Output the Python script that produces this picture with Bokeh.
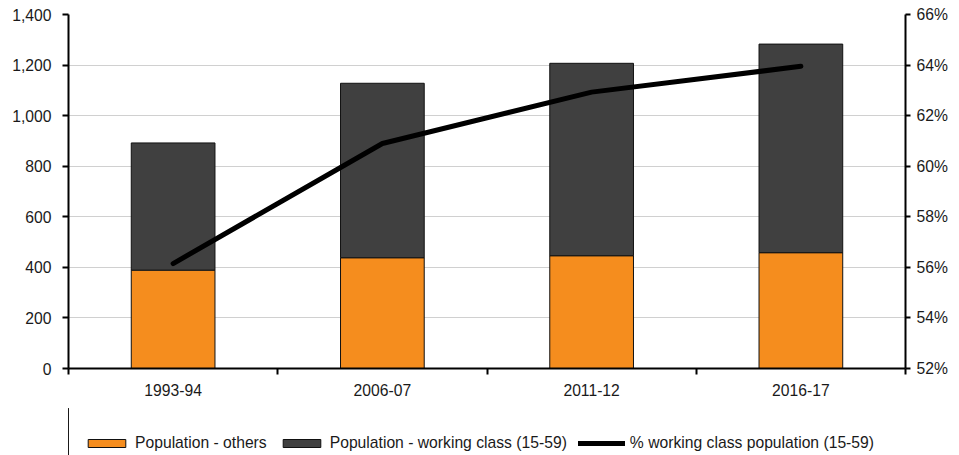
from bokeh.plotting import figure
from bokeh.layouts import column
from bokeh.models import (Range1d, LinearAxis, FixedTicker, ColumnDataSource,
                          NumeralTickFormatter, PrintfTickFormatter, Legend, LegendItem)
from bokeh.embed import file_html
from bokeh.resources import INLINE

# Survey rounds
categories = ["1993-94", "2006-07", "2011-12", "2016-17"]
# Population (millions)
pop_others = [389, 438, 446, 458]
pop_working = [503, 690, 761, 825]
# Share of working-class population (15-59), %
working_share = [56.15, 60.9, 62.93, 63.95]

left_ticks = [0, 200, 400, 600, 800, 1000, 1200, 1400]
right_ticks = [52, 54, 56, 58, 60, 62, 64, 66]

series_labels = ["Population - others",
                 "Population - working class (15-59)",
                 "% working class population (15-59)"]

FONT = "Liberation Sans"
FSIZE = "15.7px"
ORANGE = "#f58d1e"
DARK = "#404040"
TXT = "#1a1a1a"
BAR_EDGE = "#111111"

# each category occupies one unit slot; marks sit in the slot middle
n = len(categories)
centers = [i + 0.5 for i in range(n)]
edges = list(range(n + 1))

p = figure(
    x_range=Range1d(0, n),
    y_range=Range1d(0, 1400),
    frame_width=837, frame_height=354,
    min_border_left=68, min_border_right=54, min_border_top=14, min_border_bottom=40,
    x_axis_location=None, y_axis_location=None,
    output_backend="svg", toolbar_location=None,
    background_fill_color="white", border_fill_color="white",
)
p.outline_line_color = None
p.extra_y_ranges = {"pct": Range1d(52, 66)}

# horizontal grid
p.xgrid.visible = False
p.ygrid.grid_line_color = "#d0d0d0"
p.ygrid.grid_line_width = 1
p.ygrid.ticker = FixedTicker(ticks=left_ticks)

# left axis
yl = LinearAxis(ticker=FixedTicker(ticks=left_ticks), formatter=NumeralTickFormatter(format="0,0"))
yl.axis_line_width = 2
yl.axis_line_color = "black"
yl.major_tick_out = 6
yl.major_tick_in = 0
yl.major_tick_line_width = 2
yl.minor_tick_line_color = None
yl.major_label_standoff = 11
yl.major_label_text_font = FONT
yl.major_label_text_font_size = FSIZE
yl.major_label_text_color = TXT
p.add_layout(yl, "left")

# right axis (percent)
yr = LinearAxis(y_range_name="pct", ticker=FixedTicker(ticks=right_ticks),
                formatter=PrintfTickFormatter(format="%d%%"))
yr.axis_line_width = 2
yr.axis_line_color = "black"
yr.major_tick_out = 5
yr.major_tick_in = 0
yr.major_tick_line_width = 2
yr.minor_tick_line_color = None
yr.major_label_standoff = 6
yr.major_label_text_font = FONT
yr.major_label_text_font_size = FSIZE
yr.major_label_text_color = TXT
p.add_layout(yr, "right")

# category axis: labels centred in each slot, tick marks on the slot boundaries
xc = LinearAxis(ticker=FixedTicker(ticks=centers, minor_ticks=edges),
                major_label_overrides={c: lab for c, lab in zip(centers, categories)})
xc.axis_line_width = 2
xc.axis_line_color = "black"
xc.major_tick_line_color = None
xc.major_tick_out = 6
xc.major_tick_in = 0
xc.minor_tick_line_color = "black"
xc.minor_tick_line_width = 2
xc.minor_tick_out = 6
xc.minor_tick_in = 0
xc.major_label_standoff = 9
xc.major_label_text_font = FONT
xc.major_label_text_font_size = FSIZE
xc.major_label_text_color = TXT
p.add_layout(xc, "below")

src = ColumnDataSource(dict(x=centers, cat=categories, others=pop_others,
                            working=pop_working, share=working_share))
p.vbar_stack(["others", "working"], x="x", width=0.4, source=src,
             fill_color=[ORANGE, DARK], line_color=BAR_EDGE, line_width=1)
p.line(x="x", y="share", source=src, y_range_name="pct",
       line_color="black", line_width=5, line_cap="round", line_join="round")

# legend strip underneath the chart; its swatch renderers share the series
# data but the strip's x range lies past the data, so only the legend shows
lg = figure(
    width=959, height=47, x_range=Range1d(n + 1, n + 2), y_range=Range1d(0, 1),
    min_border=0, x_axis_location=None, y_axis_location=None,
    output_backend="svg", toolbar_location=None,
    background_fill_color="white", border_fill_color="white",
)
lg.outline_line_color = None
lg.grid.visible = False
sw_others = lg.vbar(x="x", top="others", source=src, width=0.4,
                    fill_color=ORANGE, line_color=BAR_EDGE, line_width=1)
sw_working = lg.vbar(x="x", top="working", source=src, width=0.4,
                     fill_color=DARK, line_color=BAR_EDGE, line_width=1)
sw_share = lg.line(x="x", y="share", source=src,
                   line_color="black", line_width=5, line_cap="round")

legend = Legend(items=[
    LegendItem(label=series_labels[0], renderers=[sw_others]),
    LegendItem(label=series_labels[1], renderers=[sw_working]),
    LegendItem(label=series_labels[2], renderers=[sw_share]),
], orientation="horizontal", location=(15, 3))
legend.glyph_width = 47
legend.glyph_height = 10
legend.label_standoff = 5
legend.spacing = 11
legend.padding = 0
legend.margin = 0
legend.border_line_color = None
legend.background_fill_alpha = 0
legend.label_text_font = FONT
legend.label_text_font_size = FSIZE
legend.label_text_color = TXT
lg.add_layout(legend, "center")

layout = column(p, lg, spacing=0)
open("out.html", "w").write(file_html(layout, INLINE))
